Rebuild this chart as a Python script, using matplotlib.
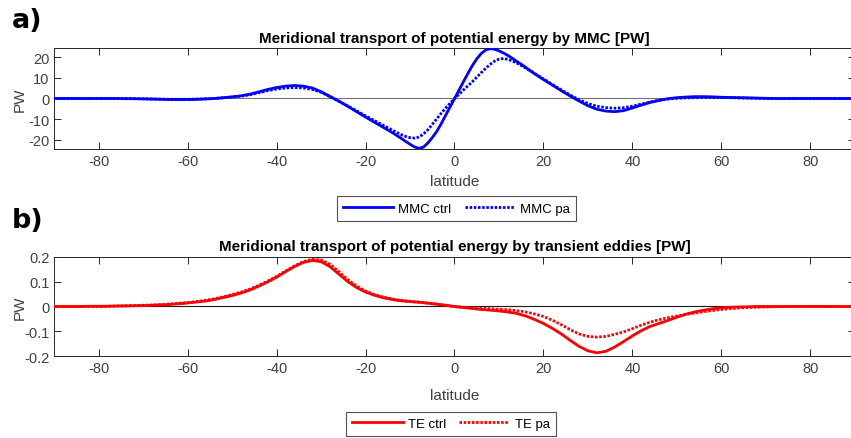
import numpy as np
import matplotlib
matplotlib.use("Agg")
import matplotlib.pyplot as plt

plt.rcParams["font.family"] = ["Liberation Sans", "DejaVu Sans"]

# latitude grid (degrees): 2 deg poleward, 1 deg across the tropics
lat = np.r_[np.arange(-90, -14, 2), np.arange(-14, 16), np.arange(16, 91, 2)]

# potential energy transport by the mean meridional circulation [PW]
mmc_ctrl = [
    # -90 .. -16
    0.0, 0.0, 0.0, 0.0, 0.0, 0.0, 0.0, 0.0, -0.1, -0.1,
    -0.2, -0.3, -0.4, -0.5, -0.5, -0.5, -0.4, -0.2, 0.0, 0.4,
    0.8, 1.3, 2.1, 3.2, 4.4, 5.3, 6.0, 6.3, 6.0, 5.1,
    3.3, 1.0, -1.3, -3.8, -6.4, -9.0, -11.5, -14.0,
    # -14 .. 15
    -16.5, -17.9, -19.3, -20.8, -22.2, -23.5, -24.2, -23.6, -21.6, -19.0,
    -16.0, -12.3, -8.2, -4.1, -0.1, 4.0, 8.1, 12.1, 15.9, 19.2,
    21.8, 23.5, 24.2, 23.9, 23.1, 22.1, 20.9, 19.5, 18.0, 16.6,
    # 16 .. 90
    15.1, 12.0, 9.2, 6.5, 3.8, 1.2, -1.2, -3.5, -5.2, -6.1,
    -6.4, -5.9, -4.6, -3.2, -1.9, -0.9, -0.1, 0.4, 0.7, 0.9,
    0.9, 0.8, 0.6, 0.5, 0.4, 0.3, 0.2, 0.1, 0.0, 0.0,
    0.0, 0.0, 0.0, 0.0, 0.0, 0.0, 0.0, 0.0,
]
mmc_pa = [
    0.0, 0.0, 0.0, 0.0, 0.0, 0.0, 0.0, 0.0, 0.0, -0.1,
    -0.1, -0.2, -0.3, -0.4, -0.4, -0.4, -0.3, -0.2, 0.0, 0.3,
    0.7, 1.1, 1.8, 2.8, 3.8, 4.6, 5.1, 5.3, 5.1, 4.4,
    3.0, 0.9, -1.3, -3.6, -6.0, -8.4, -10.7, -13.0,
    -15.3, -16.4, -17.5, -18.4, -19.0, -19.2, -18.7, -17.3, -15.2, -12.6,
    -9.9, -7.2, -4.7, -2.3, -0.1, 2.0, 4.1, 6.1, 8.1, 10.3,
    12.5, 14.6, 16.5, 18.1, 19.1, 19.4, 19.0, 18.2, 17.2, 16.0,
    14.8, 12.2, 9.5, 6.8, 4.2, 1.7, -0.6, -2.4, -3.7, -4.4,
    -4.7, -4.5, -3.7, -2.7, -1.7, -0.9, -0.3, 0.1, 0.3, 0.4,
    0.5, 0.5, 0.5, 0.4, 0.3, 0.2, 0.1, 0.0, 0.0, 0.0,
    0.0, 0.0, 0.0, 0.0, 0.0, 0.0, 0.0, 0.0,
]

# potential energy transport by transient eddies [PW]
te_ctrl = [
    0.000, 0.000, 0.000, 0.000, 0.001, 0.001, 0.001, 0.002, 0.002, 0.003,
    0.004, 0.005, 0.006, 0.008, 0.011, 0.014, 0.018, 0.022, 0.028, 0.036,
    0.044, 0.054, 0.066, 0.082, 0.099, 0.118, 0.140, 0.160, 0.177, 0.185,
    0.180, 0.160, 0.130, 0.100, 0.076, 0.058, 0.045, 0.035,
    0.028, 0.025, 0.023, 0.021, 0.020, 0.018, 0.017, 0.015, 0.013, 0.011,
    0.009, 0.007, 0.005, 0.002, 0.000, -0.002, -0.004, -0.006, -0.008, -0.010,
    -0.012, -0.013, -0.015, -0.016, -0.018, -0.020, -0.022, -0.025, -0.028, -0.033,
    -0.038, -0.052, -0.068, -0.088, -0.110, -0.136, -0.160, -0.178, -0.186, -0.180,
    -0.163, -0.141, -0.118, -0.097, -0.080, -0.068, -0.056, -0.043, -0.031, -0.022,
    -0.015, -0.009, -0.005, -0.003, -0.002, -0.001, 0.000, 0.000, 0.000, 0.000,
    0.000, 0.000, 0.000, 0.000, 0.000, 0.000, 0.000, 0.000,
]
te_pa = [
    0.000, 0.000, 0.000, 0.000, 0.000, 0.000, 0.001, 0.002, 0.003, 0.004,
    0.005, 0.006, 0.008, 0.010, 0.013, 0.016, 0.020, 0.025, 0.031, 0.039,
    0.048, 0.058, 0.070, 0.085, 0.102, 0.121, 0.142, 0.163, 0.180, 0.190,
    0.187, 0.170, 0.140, 0.108, 0.082, 0.062, 0.048, 0.038,
    0.030, 0.027, 0.025, 0.023, 0.021, 0.019, 0.018, 0.016, 0.014, 0.012,
    0.010, 0.007, 0.005, 0.002, 0.000, -0.002, -0.003, -0.004, -0.005, -0.006,
    -0.007, -0.008, -0.009, -0.010, -0.011, -0.012, -0.013, -0.015, -0.017, -0.019,
    -0.022, -0.030, -0.040, -0.055, -0.073, -0.093, -0.110, -0.120, -0.123, -0.120,
    -0.112, -0.102, -0.089, -0.075, -0.063, -0.053, -0.045, -0.038, -0.032, -0.026,
    -0.021, -0.016, -0.012, -0.009, -0.006, -0.004, -0.003, -0.002, -0.001, 0.000,
    0.000, 0.000, 0.000, 0.000, 0.000, 0.000, 0.000, 0.000,
]

xticks = [-80, -60, -40, -20, 0, 20, 40, 60, 80]
dots = (0.9, 0.6)

fig = plt.figure(figsize=(8.51, 4.39), dpi=100)
ax1 = fig.add_axes([0.0637, 0.6583, 0.9407, 0.2301])
ax2 = fig.add_axes([0.0637, 0.1861, 0.9407, 0.2269])


def style(ax, ylim, yticks, title, zero_color, xlabelpad):
    ax.axhline(0, color=zero_color, lw=0.8, zorder=1)
    ax.set_xlim(-90, 90)
    ax.set_ylim(*ylim)
    ax.set_xticks(xticks)
    ax.set_xticklabels([str(t) for t in xticks])
    ax.set_yticks(yticks)
    ax.set_yticklabels([f"{t:g}" for t in yticks])
    ax.tick_params(direction="in", length=4.8, width=0.7, top=True, right=True,
                   labelsize=10.5, labelcolor="0.25", color="0.15", pad=3.5)
    for s in ax.spines.values():
        s.set_linewidth(0.7)
        s.set_color("0.15")
    ax.set_title(title, fontsize=11, fontweight="bold", pad=4.5)
    ax.set_xlabel("latitude", fontsize=11, color="0.25", labelpad=xlabelpad)
    ax.set_ylabel("PW", fontsize=11, color="0.25")
    ax.yaxis.set_label_coords(-0.034, 0.5)


# a) mean meridional circulation
ax1.plot(lat, mmc_ctrl, color="blue", lw=2, label="MMC ctrl", zorder=3)
ax1.plot(lat, mmc_pa, color="blue", lw=2, dashes=dots, label="MMC pa", zorder=3)
style(ax1, (-24.5, 24.5), [-20, -10, 0, 10, 20],
      "Meridional transport of potential energy by MMC [PW]", "0.45", 4.5)

# b) transient eddies
ax2.plot(lat, te_ctrl, color="red", lw=2, label="TE ctrl", zorder=3)
ax2.plot(lat, te_pa, color="red", lw=2, dashes=dots, label="TE pa", zorder=3)
style(ax2, (-0.2, 0.2), [-0.2, -0.1, 0, 0.1, 0.2],
      "Meridional transport of potential energy by transient eddies [PW]", "0.1", 9.3)

leg_kw = dict(loc="center", ncol=2, fontsize=9.5, frameon=True, fancybox=False,
              edgecolor="0.15", handlelength=3.8, handletextpad=0.4,
              columnspacing=1.0, borderpad=0.45, borderaxespad=0)
leg1 = ax1.legend(bbox_to_anchor=(0.5364, 0.5228), bbox_transform=fig.transFigure, **leg_kw)
leg2 = ax2.legend(bbox_to_anchor=(0.530, 0.0319), bbox_transform=fig.transFigure, **leg_kw)
for leg in (leg1, leg2):
    leg.get_frame().set_linewidth(0.8)

# panel letters
fig.text(12 / 851, 1 - 28 / 439, "a)", fontsize=19.5, fontweight="bold",
         family="DejaVu Sans", ha="left", va="baseline")
fig.text(12 / 851, 1 - 228 / 439, "b)", fontsize=19.5, fontweight="bold",
         family="DejaVu Sans", ha="left", va="baseline")

fig.savefig("out.png", dpi=100)
